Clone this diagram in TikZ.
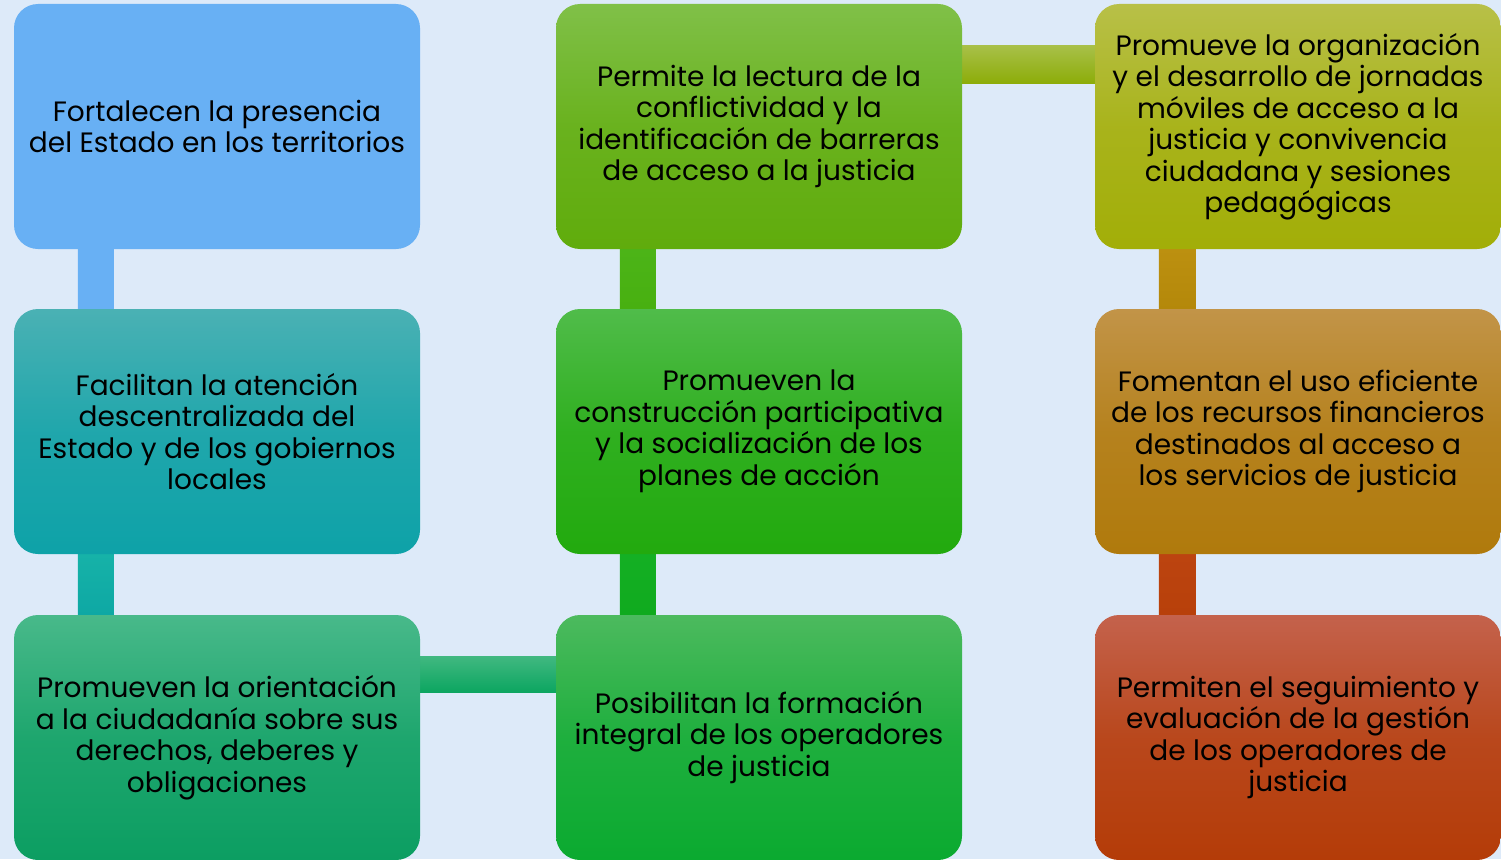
\documentclass[tikz,border=0pt]{standalone}
\usepackage{fontspec}
\setmainfont{Poppins}
\usetikzlibrary{backgrounds}
\definecolor{bg}{HTML}{DDEAF9}
\definecolor{aT}{HTML}{68B0F4}\definecolor{aB}{HTML}{68B0F4}
\definecolor{bT}{HTML}{4AB1B4}\definecolor{bB}{HTML}{0EA2A8}
\definecolor{cT}{HTML}{48B98A}\definecolor{cB}{HTML}{0C9E62}
\definecolor{dT}{HTML}{4CBA5E}\definecolor{dB}{HTML}{0BAA30}
\definecolor{eT}{HTML}{50BC4A}\definecolor{eB}{HTML}{22AA0E}
\definecolor{fT}{HTML}{80C048}\definecolor{fB}{HTML}{60AC0C}
\definecolor{gT}{HTML}{B8C048}\definecolor{gB}{HTML}{A2AE08}
\definecolor{hT}{HTML}{C29448}\definecolor{hB}{HTML}{B07A0C}
\definecolor{iT}{HTML}{C4624C}\definecolor{iB}{HTML}{B43C08}
% connector colours
\definecolor{k1T}{HTML}{16B2A8}\definecolor{k1B}{HTML}{0EA8A4}
\definecolor{k2T}{HTML}{40B880}\definecolor{k2M}{HTML}{18B070}\definecolor{k2B}{HTML}{0BA560}
\definecolor{k3T}{HTML}{14B024}\definecolor{k3B}{HTML}{10AA1E}
\definecolor{k4T}{HTML}{4CB418}\definecolor{k4B}{HTML}{48B010}
\definecolor{k5T}{HTML}{A8C048}\definecolor{k5M}{HTML}{9CBA14}\definecolor{k5B}{HTML}{8CAC08}
\definecolor{k6T}{HTML}{BC9010}\definecolor{k6B}{HTML}{B4880A}
\definecolor{k7T}{HTML}{BC4410}\definecolor{k7B}{HTML}{B8400A}
\begin{document}
\begin{tikzpicture}[x=1pt,y=-1pt,
  box/.style 2 args={rectangle, rounded corners=24pt, minimum width=406pt, minimum height=245pt,
    inner sep=0pt, align=center, text=black,
    font=\fontsize{28}{31.5}\selectfont, anchor=center,
    top color=#1, bottom color=#2, middle color=#2!70!#1},
  vbar/.style 2 args={top color=#1, bottom color=#2},
  hbar/.style n args={3}{top color=#1, middle color=#2, bottom color=#3},
]
\useasboundingbox (0,0) rectangle (1501,859);

% boxes
\node[box={aT}{aB}] (b11) at (217,126.5) {Fortalecen la presencia\\del Estado en los territorios};
\node[box={bT}{bB}] (b21) at (217,431.5) {Facilitan la atención\\descentralizada del\\Estado y  de los gobiernos\\locales};
\node[box={cT}{cB}] (b31) at (217,737.5) {Promueven la orientación\\a la ciudadanía sobre sus\\derechos, deberes y\\obligaciones};
\node[box={dT}{dB}] (b32) at (759,737.5) {Posibilitan la formación\\integral de los operadores\\de justicia};
\node[box={eT}{eB}] (b22) at (759,431.5) {Promueven la\\construcción participativa\\y la socialización de los\\planes de acción};
\node[box={fT}{fB}] (b12) at (759,126.5) {Permite la lectura de la\\conflictividad y la\\identificación de barreras\\de acceso a la justicia};
\node[box={gT}{gB}] (b13) at (1298,126.5) {Promueve la organización\\y el desarrollo de jornadas\\móviles de acceso a la\\justicia y convivencia\\ciudadana y sesiones\\pedagógicas};
\node[box={hT}{hB}] (b23) at (1298,431.5) {Fomentan el uso eficiente\\de los recursos financieros\\destinados al acceso a\\los servicios de justicia};
\node[box={iT}{iB}] (b33) at (1298,737.5) {Permiten el seguimiento y\\evaluación de la gestión\\de los operadores de\\justicia};

% background and connectors
\begin{scope}[on background layer]
\fill[bg] (0,0) rectangle (1501,859);
\shade[vbar={aT}{aT}] ([xshift=64pt]b11.south west) rectangle ([xshift=100pt]b21.north west);
\shade[vbar={k1T}{k1B}] ([xshift=64pt]b21.south west) rectangle ([xshift=100pt]b31.north west);
\shade[hbar={k2T}{k2M}{k2B}] ([yshift=-42pt]b31.north east) rectangle ([yshift=-78pt]b32.north west);
\shade[vbar={k3T}{k3B}] ([xshift=64pt]b22.south west) rectangle ([xshift=100pt]b32.north west);
\shade[vbar={k4T}{k4B}] ([xshift=64pt]b12.south west) rectangle ([xshift=100pt]b22.north west);
\shade[hbar={k5T}{k5M}{k5B}] ([yshift=-42pt]b12.north east) rectangle ([yshift=-80pt]b13.north west);
\shade[vbar={k6T}{k6B}] ([xshift=64pt]b13.south west) rectangle ([xshift=101pt]b23.north west);
\shade[vbar={k7T}{k7B}] ([xshift=64pt]b23.south west) rectangle ([xshift=101pt]b33.north west);
\end{scope}
\end{tikzpicture}
\end{document}
